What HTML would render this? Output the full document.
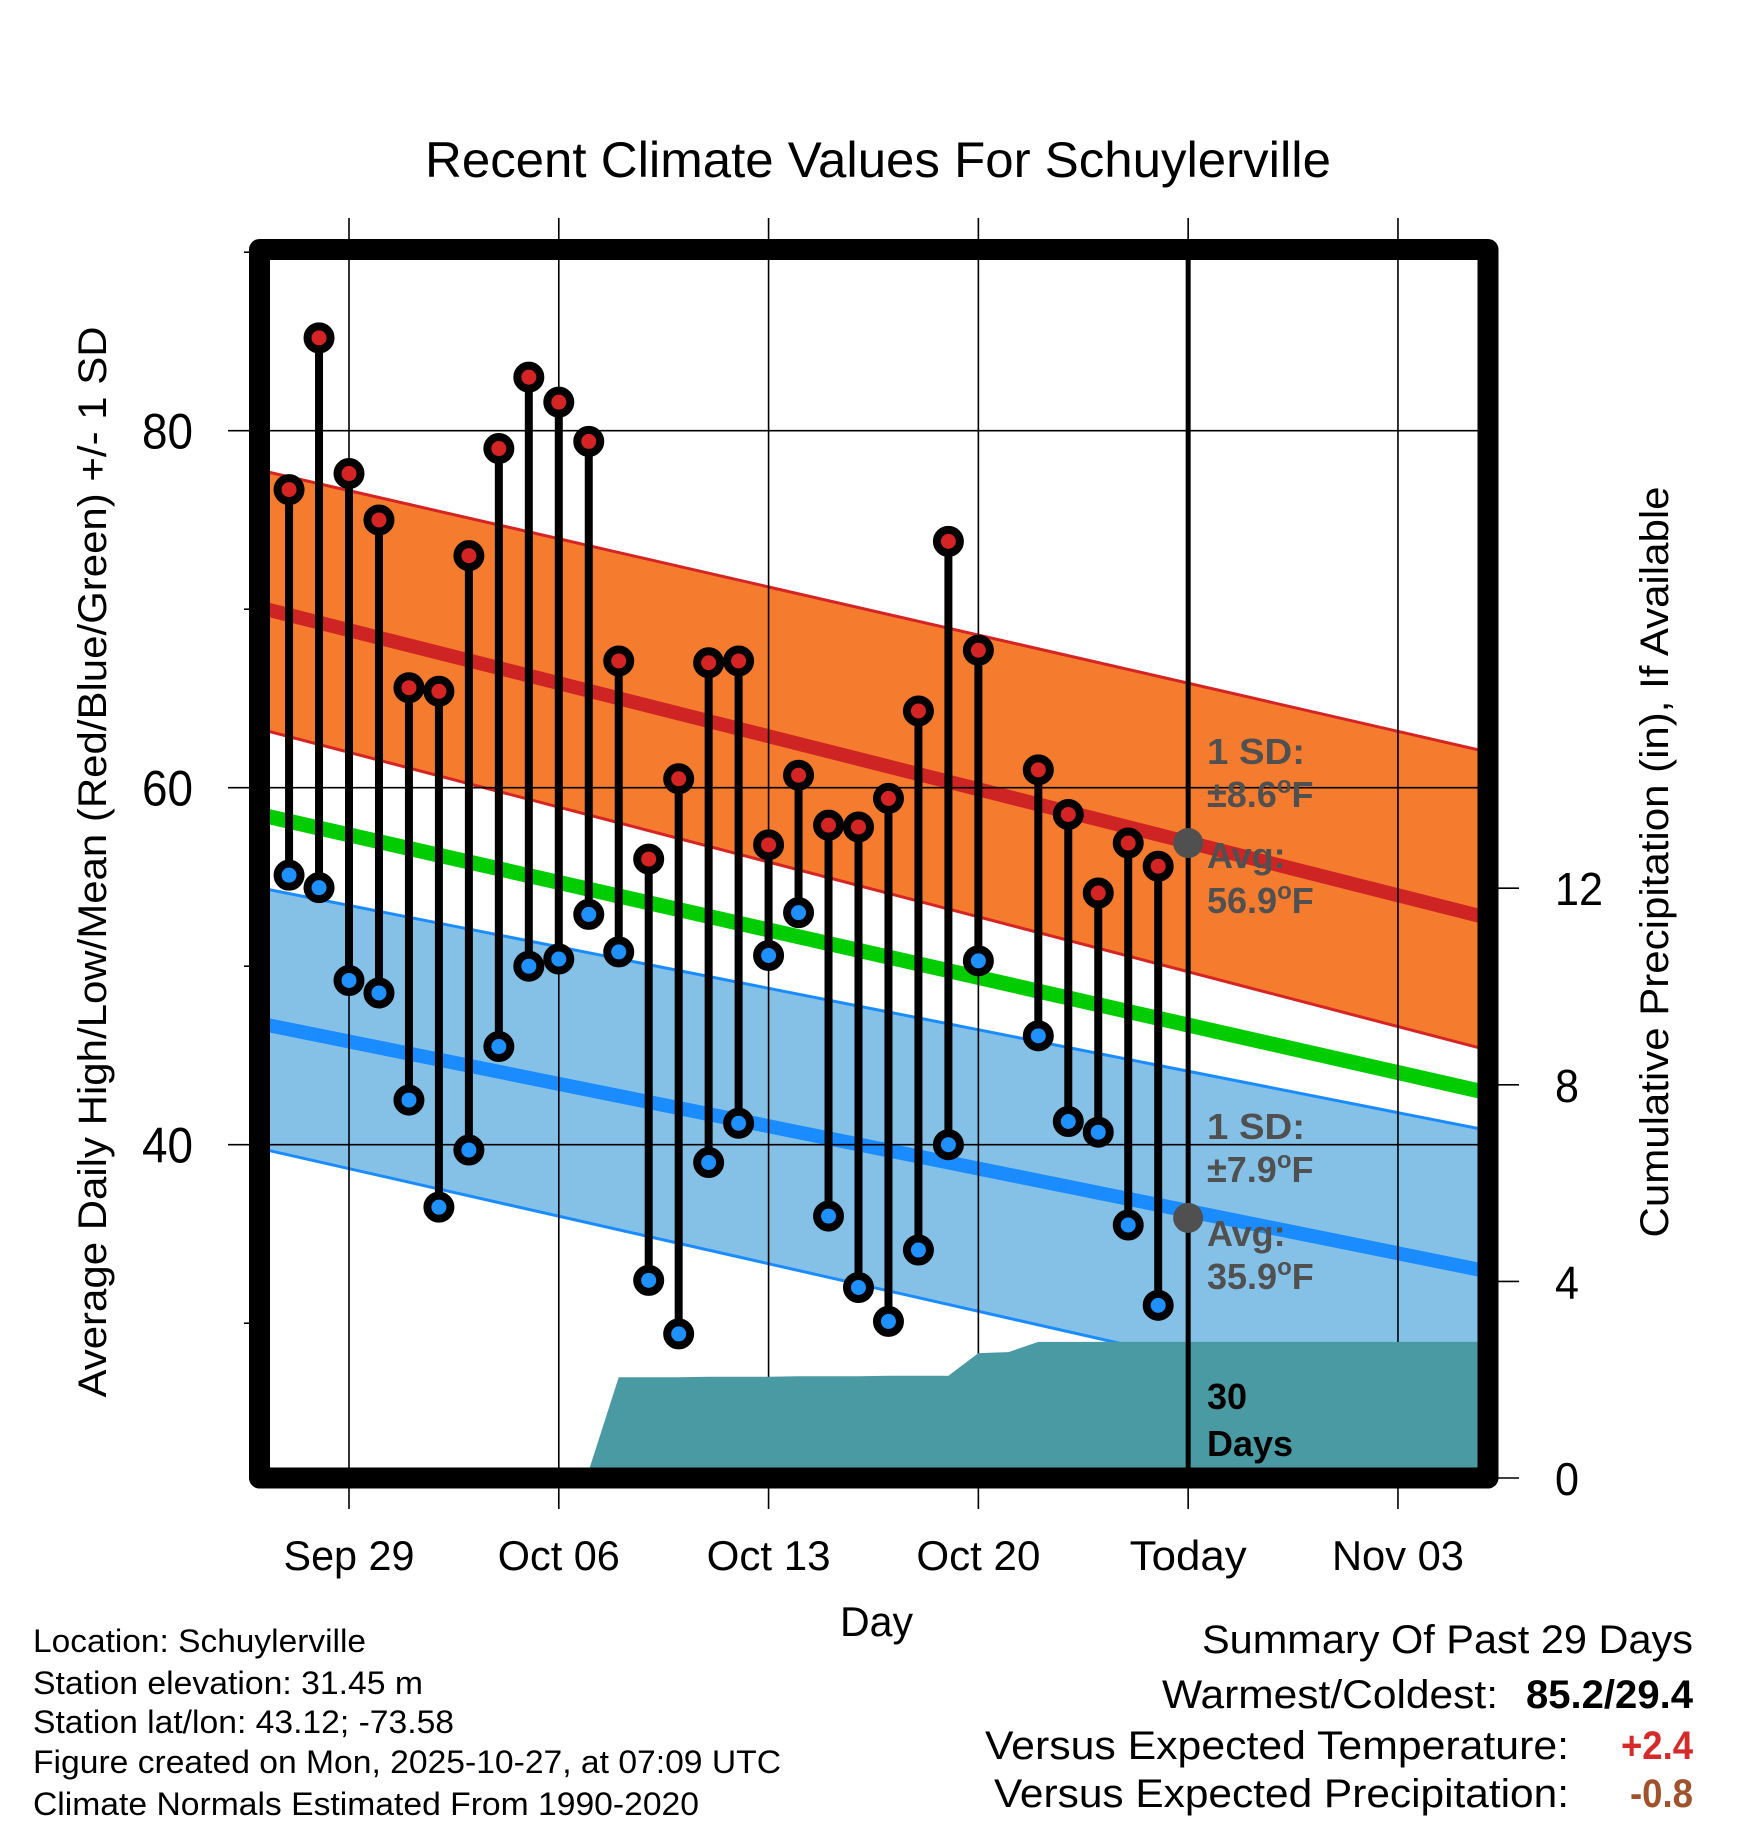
<!DOCTYPE html>
<html><head><meta charset="utf-8"><style>
html,body{margin:0;padding:0;background:#fff;}
svg{display:block;font-family:"Liberation Sans",Arial,sans-serif;}
</style></head><body>
<svg id="chart" width="1748" height="1828" viewBox="0 0 1748 1828" xmlns="http://www.w3.org/2000/svg">
<defs><clipPath id="plotclip"><rect x="259.5" y="249.5" width="1228.5" height="1228.5"/></clipPath></defs>
<text x="425" y="177" font-size="50" textLength="906" lengthAdjust="spacingAndGlyphs">Recent Climate Values For Schuylerville</text>
<g id="bands" clip-path="url(#plotclip)"></g>
<g id="grid"></g>
<g id="precip" clip-path="url(#plotclip)"></g>
<g id="marks"></g>
<g id="annot" font-weight="bold" font-size="36" fill="#505050">
<text x="1207" y="764" textLength="98" lengthAdjust="spacingAndGlyphs">1 SD:</text>
<text x="1207" y="807">±8.6<tspan font-size="24" dy="-14">o</tspan><tspan dy="14">F</tspan></text>
<text x="1207" y="868">Avg:</text>
<text x="1207" y="913">56.9<tspan font-size="24" dy="-14">o</tspan><tspan dy="14">F</tspan></text>
<text x="1207" y="1139" textLength="98" lengthAdjust="spacingAndGlyphs">1 SD:</text>
<text x="1207" y="1182">±7.9<tspan font-size="24" dy="-14">o</tspan><tspan dy="14">F</tspan></text>
<text x="1207" y="1246">Avg:</text>
<text x="1207" y="1289">35.9<tspan font-size="24" dy="-14">o</tspan><tspan dy="14">F</tspan></text>
<text x="1207" y="1409" fill="#000">30</text>
<text x="1207" y="1456" fill="#000">Days</text>
</g>
<rect x="259.5" y="249.5" width="1228.5" height="1228.5" fill="none" stroke="#000" stroke-width="21" stroke-linejoin="round"/>
<g id="axes" font-size="42"></g>
<text transform="translate(93,862) rotate(-90)" text-anchor="middle" dominant-baseline="central" font-size="40" textLength="1071" lengthAdjust="spacingAndGlyphs">Average Daily High/Low/Mean (Red/Blue/Green) +/- 1 SD</text>
<text transform="translate(1655,862) rotate(-90)" text-anchor="middle" dominant-baseline="central" font-size="40" textLength="751" lengthAdjust="spacingAndGlyphs">Cumulative Precipitation (in), If Available</text>
<text x="840" y="1636" font-size="42" textLength="73" lengthAdjust="spacingAndGlyphs">Day</text>
<g font-size="32">
<text x="33" y="1652" textLength="333" lengthAdjust="spacingAndGlyphs">Location: Schuylerville</text>
<text x="33" y="1694" textLength="390" lengthAdjust="spacingAndGlyphs">Station elevation: 31.45 m</text>
<text x="33" y="1733" textLength="421" lengthAdjust="spacingAndGlyphs">Station lat/lon: 43.12; -73.58</text>
<text x="33" y="1773" textLength="748" lengthAdjust="spacingAndGlyphs">Figure created on Mon, 2025-10-27, at 07:09 UTC</text>
<text x="33" y="1815" textLength="666" lengthAdjust="spacingAndGlyphs">Climate Normals Estimated From 1990-2020</text>
</g>
<g font-size="40">
<text x="1202" y="1653" textLength="491" lengthAdjust="spacingAndGlyphs">Summary Of Past 29 Days</text>
<text x="1162" y="1708" textLength="336" lengthAdjust="spacingAndGlyphs">Warmest/Coldest:</text>
<text x="1526" y="1708" font-weight="bold" textLength="167" lengthAdjust="spacingAndGlyphs">85.2/29.4</text>
<text x="985" y="1759" textLength="584" lengthAdjust="spacingAndGlyphs">Versus Expected Temperature:</text>
<text x="1621" y="1759" font-weight="bold" fill="#D42A2A" textLength="72" lengthAdjust="spacingAndGlyphs">+2.4</text>
<text x="994" y="1807" textLength="575" lengthAdjust="spacingAndGlyphs">Versus Expected Precipitation:</text>
<text x="1630" y="1807" font-weight="bold" fill="#A0522D" textLength="63" lengthAdjust="spacingAndGlyphs">-0.8</text>
</g>
</svg>
<script>
// days are offsets from Sep 29
const tempDays = [-2,-1,0,1,2,3,4,5,6,7,8,9,10,11,12,13,14,15,16,17,18,19,20,21,23,24,25,26,27];
const highs = [76.7,85.2,77.6,75.0,65.6,65.4,73.0,79.0,83.0,81.6,79.4,67.1,56.0,60.5,67.0,67.1,56.8,60.7,57.9,57.8,59.4,64.3,73.8,67.7,61.0,58.5,54.1,56.9,55.6];
const lows = [55.1,54.4,49.2,48.5,42.5,36.5,39.7,45.5,50.0,50.4,52.9,50.8,32.4,29.4,39.0,41.2,50.6,53.0,36.0,32.0,30.1,34.1,40.0,50.3,46.1,41.3,40.7,35.5,31.0];
const normDays = [-3, 38];
const highUpper = [77.8, 62.0];
const highAvg = [70.1, 52.7];
const highLower = [63.3, 45.3];
const meanAvg = [58.5, 42.9];
const lowUpper = [54.4, 40.8];
const lowAvg = [46.8, 32.9];
const lowLower = [39.8, 24.2];
const precipDays = [-2,-1,0,1,2,3,4,5,6,7,8,9,10,11,12,13,14,15,16,17,18,19,20,21,22,23,24,25,26,27];
const precipVals = [0,0,0,0,0,0,0,0,0,0,0.15,2.05,2.05,2.05,2.06,2.06,2.06,2.07,2.07,2.07,2.08,2.08,2.08,2.54,2.56,2.77,2.77,2.77,2.77,2.77];
const xTickDays = [0,7,14,21,28,35];
const xTickLabels = ["Sep 29","Oct 06","Oct 13","Oct 20","Today","Nov 03"];
const xTickWidths = [131,122,124,124,117,132];
const yTicks = [80,60,40];
const yMinor = [90,70,50,30];
const y2Ticks = [0,4,8,12];
const todayDay = 28;
const todayHigh = 56.9, todayLow = 35.9;

const NS = "http://www.w3.org/2000/svg";
const X0 = 259.5, X1 = 1488, Y0 = 249.5, Y1 = 1478;
const xS = d => 349 + d * 29.97;
const yS = t => 430.7 + (80 - t) * 17.85;
const pS = p => 1478 - p * 49.15;
function mk(tag, attrs, parent){ const e = document.createElementNS(NS, tag); for (const k in attrs) e.setAttribute(k, attrs[k]); parent.appendChild(e); return e; }

const bands = document.getElementById('bands');
function band(up, lo, fill, name){
  let pts = normDays.map((d,i)=>xS(d)+','+yS(up[i]));
  pts = pts.concat(normDays.slice().reverse().map((d,j)=>{const i=normDays.length-1-j;return xS(d)+','+yS(lo[i]);}));
  const p = mk('polygon', {points: pts.join(' '), fill: fill}, bands);
  
  
}
function line(vals, color, w, name){
  const p = mk('polyline', {points: normDays.map((d,i)=>xS(d)+','+yS(vals[i])).join(' '), fill:'none', stroke: color, 'stroke-width': w}, bands);
  
  
}
band(highUpper, highLower, '#F57B2E', 'high-sd-band');
band(lowUpper, lowLower, '#85C1E7', 'low-sd-band');
line(highUpper, '#D42424', 3, 'high-upper-line');
line(highLower, '#D42424', 3, 'high-lower-line');
line(lowUpper, '#1A8CFF', 3, 'low-upper-line');
line(lowLower, '#1A8CFF', 3, 'low-lower-line');
line(highAvg, '#CF2424', 14, 'avg-high-line');
line(meanAvg, '#00CC00', 15, 'avg-mean-line');
line(lowAvg, '#1A8CFF', 14, 'avg-low-line');

const grid = document.getElementById('grid');
xTickDays.forEach(d=>{
  const l = mk('line', {x1:xS(d), x2:xS(d), y1:218, y2:1509, stroke:'#000', 'stroke-width':1.6}, grid);
  
  
});
yTicks.forEach(t=>{
  const l = mk('line', {x1:228, x2:X1, y1:yS(t), y2:yS(t), stroke:'#000', 'stroke-width':1.6}, grid);
  
  
});
yMinor.forEach(t=>{
  const l = mk('line', {x1:244, x2:X0, y1:yS(t), y2:yS(t), stroke:'#000', 'stroke-width':1.6}, grid);
  
  
});

const pg = document.getElementById('precip');
let pp = [xS(precipDays[0])+','+Y1];
precipDays.forEach((d,i)=>pp.push(xS(d)+','+pS(precipVals[i])));
pp.push(X1+','+pS(precipVals[precipVals.length-1]));
pp.push(X1+','+Y1);
const parea = mk('polygon', {points: pp.join(' '), fill:'#4A9AA3'}, pg);



const marks = document.getElementById('marks');
tempDays.forEach((d,i)=>{
  const x = xS(d);
  const s = mk('line', {x1:x, x2:x, y1:yS(highs[i]), y2:yS(lows[i]), stroke:'#000', 'stroke-width':8}, marks);
  
  
});
tempDays.forEach((d,i)=>{
  const x = xS(d);
  const h = mk('circle', {cx:x, cy:yS(highs[i]), r:11.5, fill:'#D42424', stroke:'#000', 'stroke-width':8}, marks);
  
  
  const l = mk('circle', {cx:x, cy:yS(lows[i]), r:11.5, fill:'#1E90FF', stroke:'#000', 'stroke-width':8}, marks);
  
  
});
const tl = mk('line', {x1:xS(todayDay), x2:xS(todayDay), y1:255, y2:Y1, stroke:'#000', 'stroke-width':5}, marks);


const g1 = mk('circle', {cx:xS(todayDay), cy:yS(todayHigh), r:15, fill:'#505050'}, marks);


const g2 = mk('circle', {cx:xS(todayDay), cy:yS(todayLow), r:15, fill:'#505050'}, marks);



const axes = document.getElementById('axes');
xTickDays.forEach((d,i)=>{
  const t = mk('text', {x:xS(d)-xTickWidths[i]/2, y:1570, textLength:xTickWidths[i], lengthAdjust:'spacingAndGlyphs'}, axes);
  t.textContent = xTickLabels[i];
  
  
});
yTicks.forEach(v=>{
  const t = mk('text', {x:193, y:yS(v)+18, 'text-anchor':'end', 'font-size':50, textLength:51, lengthAdjust:'spacingAndGlyphs'}, axes);
  t.textContent = String(v);
  
  
});
y2Ticks.forEach(v=>{
  const tk = mk('line', {x1:X1, x2:1519, y1:pS(v), y2:pS(v), stroke:'#000', 'stroke-width':1.6}, axes);
  
  
  const s = String(v);
  const t = mk('text', {x:1555, y:pS(v)+17, 'font-size':46, textLength:s.length*24, lengthAdjust:'spacingAndGlyphs'}, axes);
  t.textContent = s;
  
  
});
</script>
</body></html>
